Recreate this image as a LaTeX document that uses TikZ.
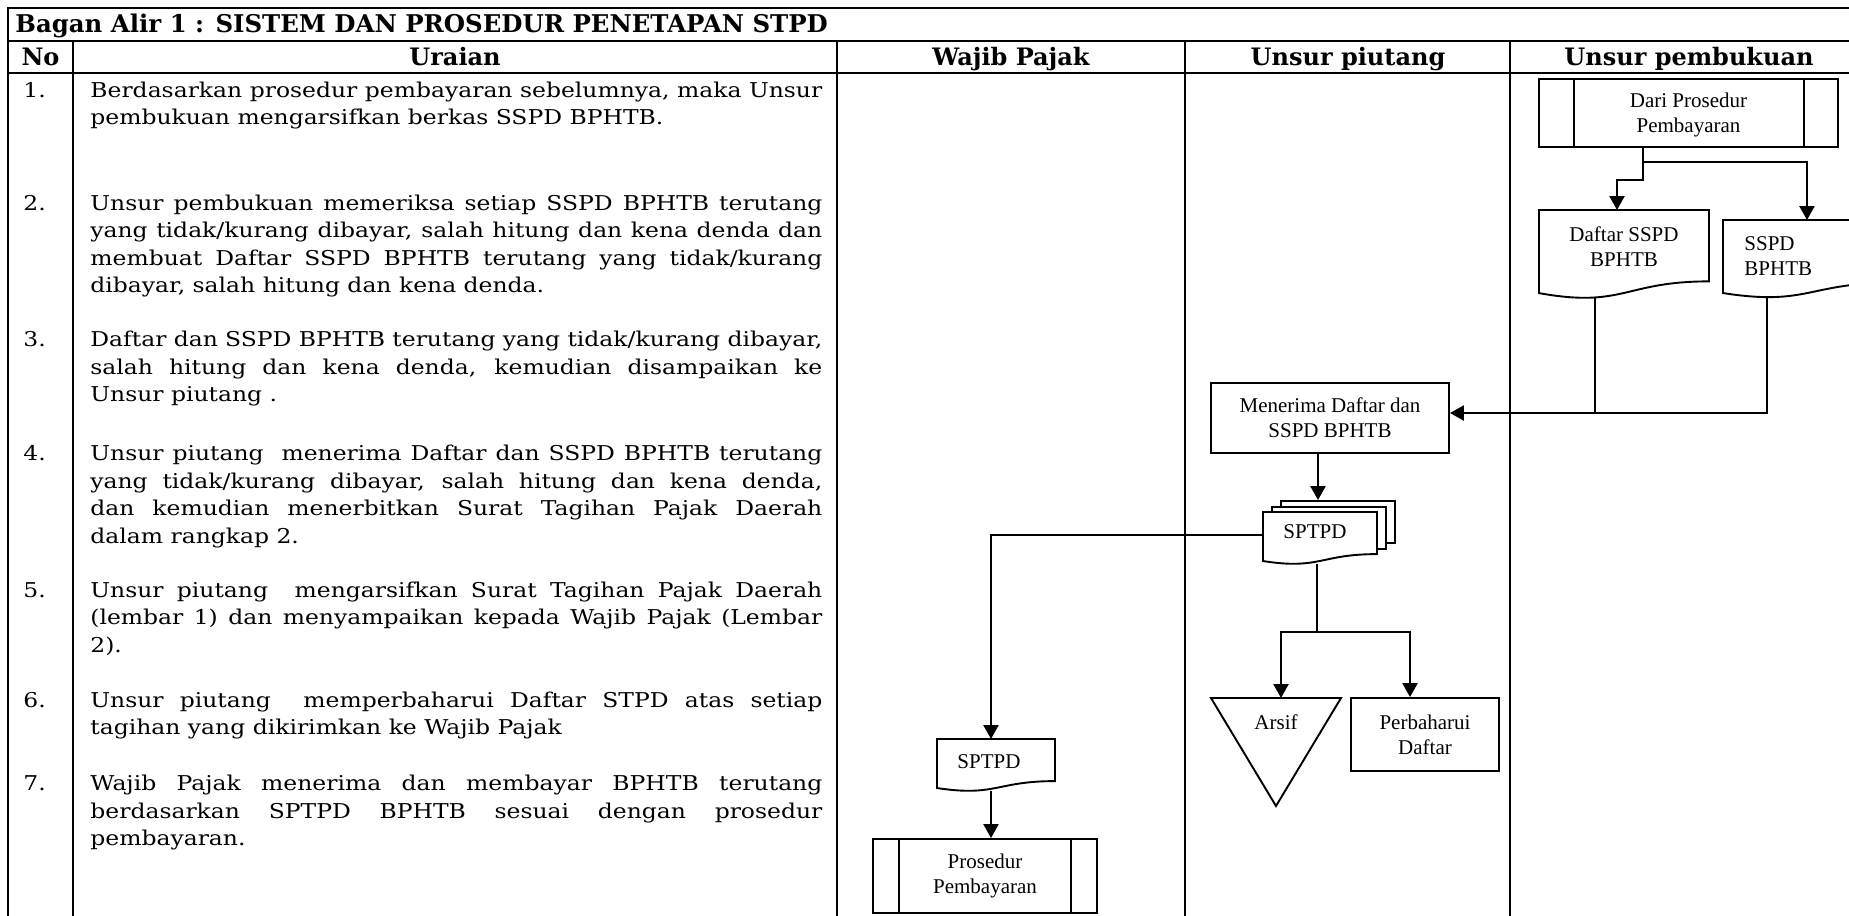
\documentclass[tikz,border=0pt]{standalone}
\usepackage{fontspec}
\setmainfont{DejaVu Serif}
\newfontfamily\bodyfamily[FakeStretch=1.15]{DejaVu Serif}
\newfontfamily\flowfamily{Liberation Serif}
\usetikzlibrary{fit,calc,arrows.meta}

% one justified line of the description column, and a final (ragged) line
\newcommand\Jl[1]{\hbox to 366pt{#1}}
\newcommand\Ll[1]{\hbox{#1}}
\newcommand\bodyfnt{\bodyfamily\fontsize{10.2}{13.8}\selectfont}
\newcommand\headfnt{\fontsize{12}{14}\selectfont\bfseries}
\newcommand\titlefnt{\fontsize{12.2}{14}\selectfont\bfseries}
\newcommand\flowfnt{\flowfamily\fontsize{10.5}{12.5}\selectfont}

% document symbol with a wavy bottom: left x, top y, right x, height
\newcommand\docshape[4]{%
  \draw[shp] (#1,#2) -- (#3,#2) -- (#3,{#2+0.802*#4})
    .. controls ({(#1+#3)/2},{#2+0.802*#4}) and ({(#1+#3)/2},{#2+1.105*#4})
    .. (#1,{#2+0.934*#4}) -- cycle;}

\begin{document}
\begin{tikzpicture}[x=0.5pt,y=-0.5pt,
  tbl/.style={line width=1pt},
  shp/.style={draw,line width=0.95pt,fill=white,line join=miter},
  box/.style={draw,line width=0.95pt,fill=white,inner sep=0pt},
  hid/.style={inner sep=0pt,outer sep=0pt},
  arr/.style={line width=1.2pt,-{Triangle[length=7pt,width=7.5pt]}},
  ln/.style={line width=1pt},
  ftxt/.style={inner sep=0pt,align=center,font=\flowfnt},
  htxt/.style={inner sep=0pt,anchor=base,font=\headfnt},
  num/.style={inner sep=0pt,anchor=base west,font=\bodyfnt},
  desc/.style={inner sep=0pt,anchor=base west,font=\bodyfnt}]

\useasboundingbox (0,0) rectangle (1849,916);
\clip (0,0) rectangle (1849,916);

% ---- table frame ----
\draw[tbl] (1870,7.5) -- (8,7.5) -- (8,930);
\draw[tbl] (8,41) -- (1870,41);
\draw[tbl] (8,73) -- (1870,73);
\foreach \cx in {73,837,1185,1510} \draw[tbl] (\cx,41) -- (\cx,930);

% ---- headings ----
\node[inner sep=0pt,anchor=base west,font=\titlefnt] (title) at (15,32)
  {Bagan Alir 1 : SISTEM DAN PROSEDUR PENETAPAN STPD};
\node[htxt] (hno)  at (40.5,65) {No};
\node[htxt] (hur)  at (455,65)  {Uraian};
\node[htxt] (hwp)  at (1011,65) {Wajib Pajak};
\node[htxt] (hup)  at (1348,65) {Unsur piutang};
\node[htxt] (hpb)  at (1689,65) {Unsur pembukuan};

% ---- numbered description ----
\node[num] (n1) at (23,97)    {1.};
\node[num] (n2) at (23,210)   {2.};
\node[num] (n3) at (23,346.5) {3.};
\node[num] (n4) at (23,460.5) {4.};
\node[num] (n5) at (23,597)   {5.};
\node[num] (n6) at (23,707)   {6.};
\node[num] (n7) at (23,790.5) {7.};

\node[desc] (u1) at (90,97) {\parbox[t]{366pt}{\bodyfnt
  \Jl{Berdasarkan prosedur pembayaran sebelumnya, maka Unsur}
  \Ll{pembukuan mengarsifkan berkas SSPD BPHTB.}}};
\node[desc] (u2) at (90,210) {\parbox[t]{366pt}{\bodyfnt
  \Jl{Unsur pembukuan memeriksa setiap SSPD BPHTB terutang}
  \Jl{yang tidak/kurang dibayar, salah hitung dan kena denda dan}
  \Jl{membuat Daftar SSPD BPHTB terutang yang tidak/kurang}
  \Ll{dibayar, salah hitung dan kena denda.}}};
\node[desc] (u3) at (90,346.5) {\parbox[t]{366pt}{\bodyfnt
  \Jl{Daftar dan SSPD BPHTB terutang yang tidak/kurang dibayar,}
  \Jl{salah hitung dan kena denda, kemudian disampaikan ke}
  \Ll{Unsur piutang .}}};
\node[desc] (u4) at (90,460.5) {\parbox[t]{366pt}{\bodyfnt
  \Jl{Unsur piutang\ \ menerima Daftar dan SSPD BPHTB terutang}
  \Jl{yang tidak/kurang dibayar, salah hitung dan kena denda,}
  \Jl{dan kemudian menerbitkan Surat Tagihan Pajak Daerah}
  \Ll{dalam rangkap 2.}}};
\node[desc] (u5) at (90,597) {\parbox[t]{366pt}{\bodyfnt
  \Jl{Unsur piutang\ \ mengarsifkan Surat Tagihan Pajak Daerah}
  \Jl{(lembar 1) dan menyampaikan kepada Wajib Pajak (Lembar}
  \Ll{2).}}};
\node[desc] (u6) at (90,707) {\parbox[t]{366pt}{\bodyfnt
  \Jl{Unsur piutang\ \ memperbaharui Daftar STPD atas setiap}
  \Ll{tagihan yang dikirimkan ke Wajib Pajak}}};
\node[desc] (u7) at (90,790.5) {\parbox[t]{366pt}{\bodyfnt
  \Jl{Wajib Pajak menerima dan membayar BPHTB terutang}
  \Jl{berdasarkan SPTPD BPHTB sesuai dengan prosedur}
  \Ll{pembayaran.}}};

% ---- process boxes ----
\node[box,fit={(1539,79) (1838,147)}] (p1) {};
\draw[line width=0.95pt] ([xshift=18pt]p1.north west) -- ([xshift=18pt]p1.south west);
\draw[line width=0.95pt] ([xshift=-17.5pt]p1.north east) -- ([xshift=-17.5pt]p1.south east);

\node[box,fit={(1211,383) (1449,453)}] (m) {};
\node[box,fit={(1351,698) (1499,771)}] (pd) {};

\node[box,fit={(873,839) (1097,913)}] (pp) {};
\draw[line width=0.95pt] ([xshift=13.5pt]pp.north west) -- ([xshift=13.5pt]pp.south west);
\draw[line width=0.95pt] ([xshift=-13.5pt]pp.north east) -- ([xshift=-13.5pt]pp.south east);

% stacked copies behind the front SPTPD sheet
\node[box,fit={(1281,501) (1395,543)}] (sb) {};
\node[box,fit={(1272,507) (1386,549)}] (sm) {};

% frames of the document symbols and the archive triangle
\node[hid,fit={(1539,210) (1709,297)}] (d1) {};
\node[hid,fit={(1723,220) (1893,296.6)}] (d2) {};
\node[hid,fit={(1263,512) (1377,563.5)}] (sf) {};
\node[hid,fit={(937,739) (1055,790.5)}] (w) {};
\node[hid,fit={(1211,698) (1341,806)}] (arsif) {};

% ---- connectors ----
\coordinate (j1) at (1643,162);
\draw[arr] (p1.south -| j1) -- (1643,180) -| (d1.north -| 1617,0);
\draw[arr] (j1) -| (d2.north -| 1807,0);

\coordinate (j2) at (1767,413);
\draw[ln] (d1.south -| 1595,0) |- (j2);
\draw[arr] (d2.south -| j2) -- (j2) -- (m.east |- j2);

\draw[arr] (m.south -| 1318,0) -- (sb.north -| 1318,0);
\draw[arr] (sf.west |- 0,535) -| (w.north -| 991,0);
\draw[arr] (w.south -| 991,0) -- (pp.north -| 991,0);

\coordinate (j3) at (1317,632);
\draw[line width=1.2pt] (sf.south -| j3) -- (j3);
\draw[arr] (j3) -| (arsif.north -| 1281,0);
\draw[arr] (j3) -| (pd.north -| 1410,0);

% ---- documents and archive outlines ----
\docshape{1539}{210}{1709}{89}
\docshape{1723}{220}{1893}{78.2}
\docshape{1263}{512}{1377}{52.5}
\docshape{937}{739}{1055}{52.5}
\draw[shp] (arsif.north west) -- (arsif.north east) -- (arsif.south) -- cycle;

% ---- labels of the symbols ----
\node[ftxt] (p1t) at ($(p1.center)+(0,2)$) {Dari Prosedur\\Pembayaran};
\node[ftxt] (mt) at (m.center) {Menerima Daftar dan\\SSPD BPHTB};
\node[ftxt] (pdt) at (pd.center) {Perbaharui\\Daftar};
\node[ftxt] (ppt) at (pp.center) {Prosedur\\Pembayaran};
\node[ftxt] (d1t) at (1624,246.5) {Daftar SSPD\\BPHTB};
\node[ftxt,anchor=west,align=left] (d2t) at (1744,256) {SSPD\\BPHTB};
\node[ftxt] (sft) at (1315,532) {SPTPD};
\node[ftxt] (wt) at (989,762) {SPTPD};
\node[ftxt] (arsift) at (1276,722) {Arsif};

\end{tikzpicture}
\end{document}
